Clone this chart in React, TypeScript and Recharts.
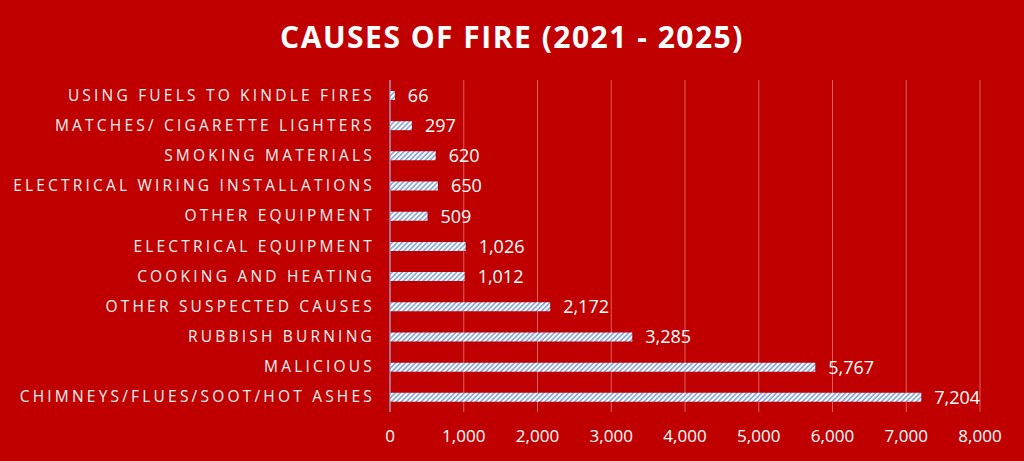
import { Bar, BarChart, CartesianGrid, LabelList, XAxis, YAxis } from 'recharts'

const causes = [
  'USING FUELS TO KINDLE FIRES',
  'MATCHES/ CIGARETTE LIGHTERS',
  'SMOKING MATERIALS',
  'ELECTRICAL WIRING INSTALLATIONS',
  'OTHER EQUIPMENT',
  'ELECTRICAL EQUIPMENT',
  'COOKING AND HEATING',
  'OTHER SUSPECTED CAUSES',
  'RUBBISH BURNING',
  'MALICIOUS',
  'CHIMNEYS/FLUES/SOOT/HOT ASHES',
]
const counts = [66, 297, 620, 650, 509, 1026, 1012, 2172, 3285, 5767, 7204]
const xTicks = [0, 1000, 2000, 3000, 4000, 5000, 6000, 7000, 8000]

const data = causes.map((cause, i) => ({ cause, count: counts[i] }))

const fmt = (v: number) => v.toLocaleString('en-US')

export default function App() {
  return (
    <div
      style={{
        position: 'absolute',
        left: 0,
        top: 0,
        width: 1024,
        height: 461,
        background: '#C00000',
        fontFamily: '"Open Sans", sans-serif',
      }}
    >
      <div
        style={{
          position: 'absolute',
          top: 15,
          left: 0,
          width: 1024,
          textAlign: 'center',
          color: '#fff',
          fontWeight: 700,
          fontSize: 30,
          letterSpacing: 1.5,
          lineHeight: '44px',
        }}
      >
        CAUSES OF FIRE (2021 - 2025)
      </div>
      <BarChart
        width={1024}
        height={461}
        data={data}
        layout="vertical"
        margin={{ top: 80, right: 44, bottom: 19, left: 0 }}
        style={{ position: 'absolute', left: 0, top: 0 }}
      >
        <defs>
          <pattern
            id="hatch"
            patternUnits="userSpaceOnUse"
            width={3.5}
            height={3.5}
            patternTransform="rotate(45)"
          >
            <rect width={3.5} height={3.5} fill="#ffffff" />
            <rect width={1.75} height={3.5} fill="#8FAADC" />
          </pattern>
        </defs>
        <CartesianGrid horizontal={false} stroke="#D86262" />
        <XAxis
          type="number"
          domain={[0, 8000]}
          ticks={xTicks}
          tickFormatter={fmt}
          height={30}
          axisLine={false}
          tickLine={false}
          tickSize={0}
          tickMargin={18}
          tick={{ fill: '#ffffff', fontSize: 17 }}
        />
        <YAxis
          type="category"
          dataKey="cause"
          width={390}
          axisLine={{ stroke: '#8FAADC' }}
          tickLine={false}
          tickSize={0}
          tickMargin={15}
          interval={0}
          tick={{ fill: '#F2F2F2', fontSize: 15.5, letterSpacing: 3.2 }}
        />
        <Bar dataKey="count" fill="url(#hatch)" barSize={9} isAnimationActive={false}>
          <LabelList
            dataKey="count"
            position="right"
            offset={13}
            formatter={(v: any) => fmt(v as number)}
            fill="#ffffff"
            fontSize={18}
          />
        </Bar>
      </BarChart>
    </div>
  )
}
